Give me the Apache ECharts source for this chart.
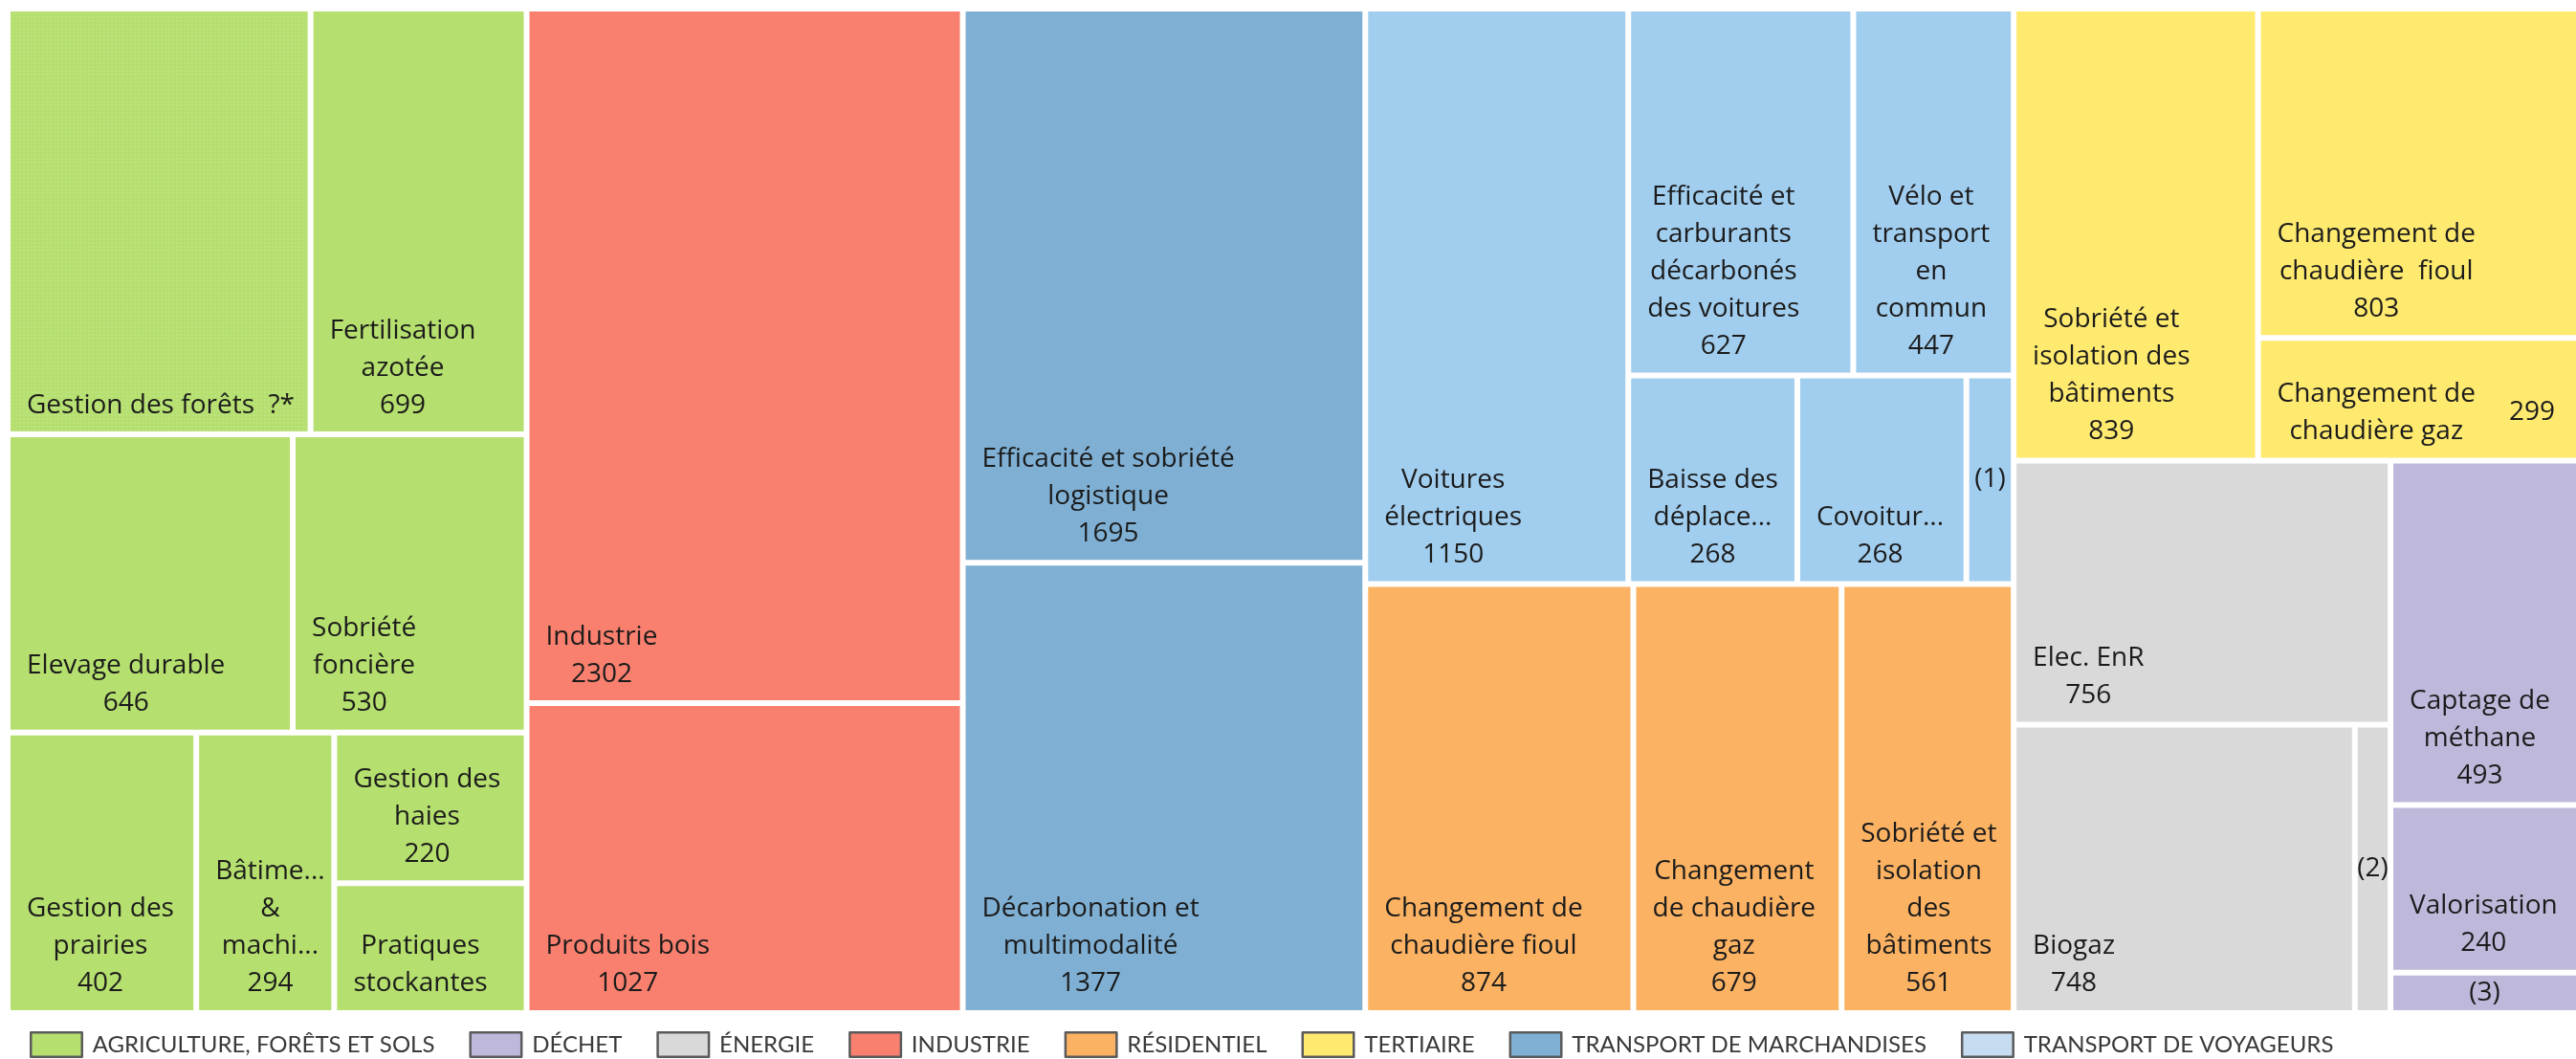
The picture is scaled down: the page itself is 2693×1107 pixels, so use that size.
<!DOCTYPE html>
<html>
<head>
<meta charset="utf-8">
<script src="https://cdn.jsdelivr.net/npm/echarts@6.0.0/dist/echarts.min.js"></script>
<style>
  html, body { margin: 0; padding: 0; background: #ffffff; }
  #chart { width: 2693px; height: 1107px; }
</style>
</head>
<body>
<div id="chart"></div>
<script>
// ---------------- DATA ----------------
const groupNames = ['AGRICULTURE, FORÊTS ET SOLS', 'DÉCHET', 'ÉNERGIE', 'INDUSTRIE',
  'RÉSIDENTIEL', 'TERTIAIRE', 'TRANSPORT DE MARCHANDISES', 'TRANSPORT DE VOYAGEURS'];
const groupColors  = ['#B5DF6E', '#BEB9DB', '#D9D9D9', '#F9806F', '#FBB263', '#FFEA70', '#7FB0D4', '#A1CDEE'];
const legendColors = ['#B5DF6E', '#BEB9DB', '#D9D9D9', '#F9806F', '#FBB263', '#FFEA70', '#7FB0D4', '#C6DCF1'];

const agriNames = ['Gestion des forêts  ?*', 'Fertilisation\nazotée', 'Elevage durable', 'Sobriété\nfoncière',
  'Gestion des\nprairies', 'Bâtime...\n&\nmachi...', 'Gestion des\nhaies', 'Pratiques\nstockantes'];
const agriValues = [980, 699, 646, 530, 402, 294, 220, 190];

const industrieNames = ['Industrie', 'Produits bois'];
const industrieValues = [2302, 1027];

const marchandisesNames = ['Efficacité et sobriété\nlogistique', 'Décarbonation et\nmultimodalité'];
const marchandisesValues = [1695, 1377];

const voyageursNames = ['Voitures\nélectriques', 'Efficacité et\ncarburants\ndécarbonés\ndes voitures',
  'Vélo et\ntransport\nen\ncommun', 'Baisse des\ndéplace...', 'Covoitur...', '(1)'];
const voyageursValues = [1150, 627, 447, 268, 268, 75];

const residentielNames = ['Changement de\nchaudière fioul', 'Changement\nde chaudière\ngaz', 'Sobriété et\nisolation\ndes\nbâtiments'];
const residentielValues = [874, 679, 561];

const tertiaireNames = ['Sobriété et\nisolation des\nbâtiments', 'Changement de\nchaudière  fioul', 'Changement de\nchaudière gaz'];
const tertiaireValues = [839, 803, 299];

const energieNames = ['Elec. EnR', 'Biogaz', '(2)'];
const energieValues = [756, 748, 78];

const dechetNames = ['Captage de\nméthane', 'Valorisation', '(3)'];
const dechetValues = [493, 240, 58];

// cells whose number is not printed in the picture
const valueHidden = ['Gestion des forêts  ?*', 'Pratiques\nstockantes', '(1)', '(2)', '(3)'];
// cell whose number is printed to the right of its name
const valueBeside = ['Changement de\nchaudière gaz'];
// cell drawn with a dotted texture
const dotted = ['Gestion des forêts  ?*'];

// ---------------- STYLE ----------------
const FONT = '"Open Sans", Lato, sans-serif';
const LEGEND_FONT = 'Lato, "Open Sans", sans-serif';
const FS = 28, LH = 39, PAD_L = 17, PAD_B = 8, PAD_R = 22;
const TXT = '#1b1b1b';

const ctx = document.createElement('canvas').getContext('2d');
ctx.font = FS + 'px ' + FONT;
const measure = s => ctx.measureText(s).width;

function labelFor(name, value) {
  const base = { show: true, fontFamily: FONT, fontSize: FS, lineHeight: LH, color: TXT, overflow: 'none', padding: 0 };
  if (name.charAt(0) === '(') {
    return Object.assign(base, { formatter: () => name, position: 'inside', align: 'center', verticalAlign: 'middle', lineHeight: 28 });
  }
  if (valueBeside.indexOf(name) >= 0) {
    const ls = name.split('\n');
    const w0 = measure(ls[0]), w1 = measure(ls[1]), W = Math.max(w0, w1);
    const tok = { fontFamily: FONT, fontSize: FS, lineHeight: LH, color: TXT };
    return Object.assign(base, {
      formatter: () => '{a|' + ls[0] + '}{v|' + value + '}\n{b|' + ls[1] + '}',
      position: [0, '100%'], align: 'left', verticalAlign: 'top',
      offset: [0, -(2 * LH + PAD_B)], padding: [0, PAD_R, 0, PAD_L],
      rich: {
        a: Object.assign({ padding: [0, 0, 0, (W - w0) / 2] }, tok),
        b: Object.assign({ padding: [0, 0, 0, (W - w1) / 2] }, tok),
        v: Object.assign({ align: 'right', padding: [LH, 0, 0, 0] }, tok)
      }
    });
  }
  const lines = name.split('\n');
  if (valueHidden.indexOf(name) < 0) lines.push(String(value));
  const w = Math.max.apply(null, lines.map(measure));
  return Object.assign(base, {
    formatter: () => lines.join('\n'),
    position: [PAD_L + w / 2, '100%'], align: 'center', verticalAlign: 'bottom', offset: [0, -PAD_B]
  });
}

function makeLeaves(names, values, gi) {
  return names.map((n, i) => {
    const item = {
      name: n, value: values[i],
      itemStyle: { color: groupColors[gi], borderWidth: 3, borderColor: '#ffffff', gapWidth: 0 },
      label: labelFor(n, values[i])
    };
    if (dotted.indexOf(n) >= 0) {
      item.itemStyle.decal = { symbol: 'rect', symbolSize: 1, color: 'rgba(255,255,255,0.13)', dashArrayX: [2, 2], dashArrayY: [2, 2] };
    }
    return item;
  });
}
// invisible grouping node (only used to steer the squarified split order)
function wrap(name, children) {
  return { name: name, children: children, itemStyle: { borderWidth: 0, gapWidth: 0, borderColor: '#ffffff' } };
}

const A = makeLeaves(agriNames, agriValues, 0);
const I = makeLeaves(industrieNames, industrieValues, 3);
const M = makeLeaves(marchandisesNames, marchandisesValues, 6);
const V = makeLeaves(voyageursNames, voyageursValues, 7);
const R = makeLeaves(residentielNames, residentielValues, 4);
const T = makeLeaves(tertiaireNames, tertiaireValues, 5);
const E = makeLeaves(energieNames, energieValues, 2);
const D = makeLeaves(dechetNames, dechetValues, 1);

const agri = wrap(groupNames[0], [wrap('', [A[0], A[1]]), wrap('', [A[2], A[3]]), wrap('', [A[4], A[5], wrap('', [A[6], A[7]])])]);
const indu = wrap(groupNames[3], I);
const marc = wrap(groupNames[6], M);
const voya = wrap(groupNames[7], [V[0], wrap('', [wrap('', [V[1], V[2]]), wrap('', [V[3], V[4], V[5]])])]);
const resi = wrap(groupNames[4], [wrap('', [R[0], R[1]]), R[2]]);
const tert = wrap(groupNames[5], [T[0], wrap('', [T[1], T[2]])]);
const ener = wrap(groupNames[2], E);
const dech = wrap(groupNames[1], D);

const treeData = [agri, wrap('', [indu, wrap('', [marc, wrap('', [wrap('', [voya, resi]), wrap('', [tert, wrap('', [ener, dech])])])])])];

const chart = echarts.init(document.getElementById('chart'), null, { renderer: 'canvas' });
chart.setOption({
  backgroundColor: '#ffffff',
  animation: false,
  legend: {
    show: true, data: groupNames, left: 31, top: 1078, orient: 'horizontal',
    itemWidth: 53.5, itemHeight: 25.5, itemGap: 36, icon: 'rect', selectedMode: false, padding: 0,
    itemStyle: { borderColor: '#5b5b5b', borderWidth: 2.5 },
    textStyle: { fontFamily: LEGEND_FONT, fontSize: 24, color: '#3a3a3a', padding: [0, 0, 0, 6] }
  },
  series: [
    {
      type: 'treemap',
      left: 8, top: 9, width: 2688, height: 1050,
      squareRatio: 1, sort: false, roam: false, nodeClick: false,
      breadcrumb: { show: false },
      upperLabel: { show: false },
      visibleMin: 0,
      itemStyle: { borderWidth: 0, gapWidth: 0, borderColor: '#ffffff' },
      label: { show: true, fontFamily: FONT, fontSize: FS, color: TXT },
      emphasis: { disabled: true },
      data: treeData
    },
    {
      type: 'pie', radius: 0, center: [-200, -200], silent: true, stillShowZeroSum: false,
      label: { show: false }, labelLine: { show: false },
      data: groupNames.map((n, i) => ({ name: n, value: 0, itemStyle: { color: legendColors[i] } }))
    }
  ]
});
</script>
</body>
</html>
